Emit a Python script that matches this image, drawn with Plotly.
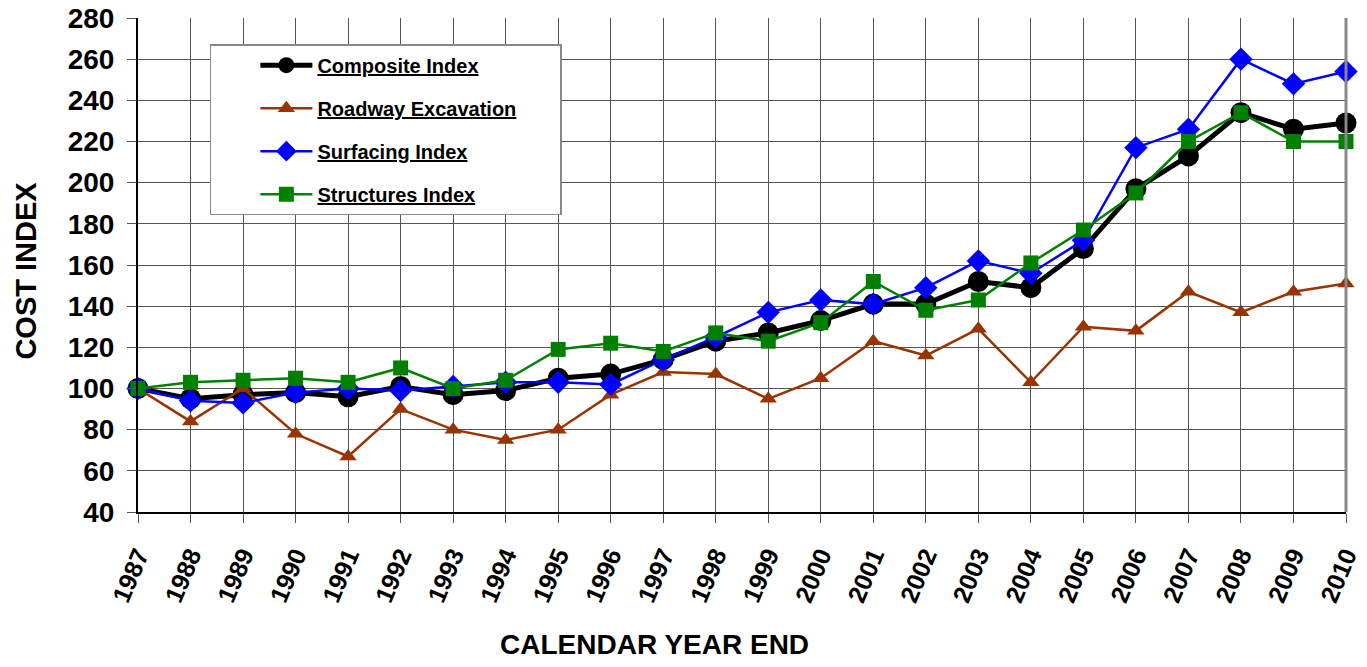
import plotly.graph_objects as go

years = list(range(1987, 2011))
composite = [100, 95, 97, 98, 96, 101, 97, 99, 105, 107, 114, 123, 127, 133, 141, 141, 152, 149, 168, 197, 213, 234, 226, 229]
roadway = [100, 84, 100, 78, 67, 90, 80, 75, 80, 97, 108, 107, 95, 105, 123, 116, 129, 103, 130, 128, 147, 137, 147, 151]
surfacing = [100, 94, 93, 98, 100, 99, 101, 103, 103, 102, 114, 125, 137, 143, 141, 149, 162, 156, 172, 217, 226, 260, 248, 254]
structures = [100, 103, 104, 105, 103, 110, 100, 104, 119, 122, 118, 127, 123, 132, 152, 138, 143, 161, 177, 195, 220, 234, 220, 220]

series = [
    ("Composite Index", composite, "#000000", 5, "circle", 21),
    ("Roadway Excavation", roadway, "#993300", 2.5, "triangle-up", 15),
    ("Surfacing Index", surfacing, "#0000FF", 2.5, "diamond", 18),
    ("Structures Index", structures, "#008000", 2.5, "square", 15),
]

pad = "&nbsp;" * 7
fig = go.Figure()
for i, (name, vals, color, lw, sym, ms) in enumerate(series):
    fig.add_trace(go.Scatter(
        x=years, y=vals, name="<u>" + name + "</u>" + pad, mode="lines+markers",
        line=dict(color=color, width=lw),
        marker=dict(symbol=sym, size=ms, color=color),
        cliponaxis=False, legendgroup=str(i),
    ))

font_family = "Liberation Sans, Arial, sans-serif"
fig.update_layout(
    width=1351, height=651,
    margin=dict(l=130, r=13, t=10, b=147),
    paper_bgcolor="white", plot_bgcolor="white",
    font=dict(family=font_family, color="black"),
    showlegend=True,
    legend=dict(
        x=0.0595, y=0.947, xanchor="left", yanchor="top",
        bgcolor="white", bordercolor="#888888", borderwidth=1.5,
        font=dict(size=20, family=font_family, color="black", weight="bold"),
        tracegroupgap=14, itemwidth=52, indentation=44,
    ),
)
fig.update_xaxes(
    range=[1987, 2010], tickmode="array", tickvals=years, ticktext=[str(y) for y in years],
    tickangle=-67, tickfont=dict(size=25, family=font_family, weight="bold"),
    showgrid=True, gridcolor="#555555", gridwidth=1,
    showline=True, linecolor="black", linewidth=2, mirror=False,
    ticks="outside", ticklen=9, tickcolor="#555555", ticklabelstandoff=8,
    automargin=False, ticklabeloverflow="allow",
    zeroline=False,
)
fig.update_yaxes(
    range=[40, 280], dtick=20, tick0=40,
    tickfont=dict(size=28, family=font_family, weight="bold"),
    showgrid=True, gridcolor="#555555", gridwidth=1,
    showline=True, linecolor="black", linewidth=2,
    ticks="outside", ticklen=9, tickcolor="#555555", ticklabelstandoff=7,
    automargin=False, ticklabeloverflow="allow",
    zeroline=False,
)
fig.add_shape(type="line", xref="paper", yref="paper", x0=1, x1=1, y0=0, y1=1,
              line=dict(color="#888888", width=3))
fig.add_annotation(text="<b>CALENDAR YEAR END</b>", xref="paper", yref="paper",
                   x=0.4275, y=-0.268, xanchor="center", yanchor="middle", showarrow=False,
                   font=dict(size=28, family=font_family, color="black"))
fig.add_annotation(text="<b>COST INDEX</b>", xref="paper", yref="paper",
                   x=-0.093, y=0.488, xanchor="center", yanchor="middle", showarrow=False,
                   textangle=-90,
                   font=dict(size=29, family=font_family, color="black"))

fig.write_html("out.html")
